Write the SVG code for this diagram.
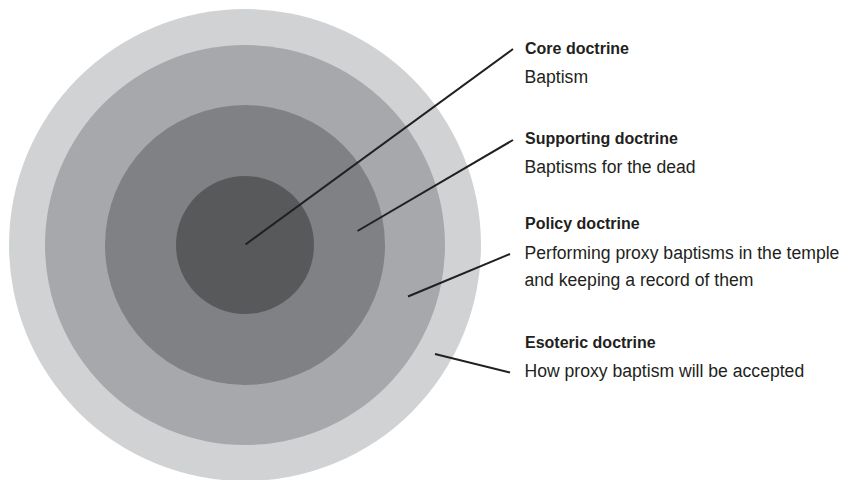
<svg xmlns="http://www.w3.org/2000/svg" width="842" height="480" viewBox="0 0 842 480">
<style>
.t{font-family:"Liberation Sans",Arial,sans-serif;fill:#231f20}
.b{font-weight:bold;font-size:16px}
.r{font-size:17.6px}
.ln{stroke:#231f20;stroke-width:2;fill:none}
</style>
<rect width="842" height="480" fill="#ffffff"/>
<g id="esoteric"><circle cx="245" cy="245" r="236" fill="#d1d2d4"/></g>
<g id="policy"><circle cx="245" cy="245" r="200" fill="#a7a8ab"/></g>
<g id="supporting"><circle cx="245" cy="245" r="140" fill="#808184"/></g>
<g id="core"><circle cx="245" cy="245" r="69" fill="#58595b"/></g>
<g id="connectors">
<line class="ln" x1="245.5" y1="244.5" x2="513" y2="49"/>
<line class="ln" x1="357.5" y1="231" x2="513" y2="140"/>
<line class="ln" x1="408" y1="296.5" x2="510" y2="254"/>
<line class="ln" x1="435" y1="354" x2="510" y2="372.5"/>
</g>
<g id="label-core">
<text class="t b" x="525" y="54">Core doctrine</text>
<text class="t r" x="524.5" y="82.5">Baptism</text>
</g>
<g id="label-supporting">
<text class="t b" x="525" y="143.5">Supporting doctrine</text>
<text class="t r" x="524.5" y="172.5">Baptisms for the dead</text>
</g>
<g id="label-policy">
<text class="t b" x="525" y="229">Policy doctrine</text>
<text class="t r" x="524.5" y="258.5">Performing proxy baptisms in the temple</text>
<text class="t r" x="524.5" y="286">and keeping a record of them</text>
</g>
<g id="label-esoteric">
<text class="t b" x="525" y="348">Esoteric doctrine</text>
<text class="t r" x="524.5" y="377">How proxy baptism will be accepted</text>
</g>
</svg>
